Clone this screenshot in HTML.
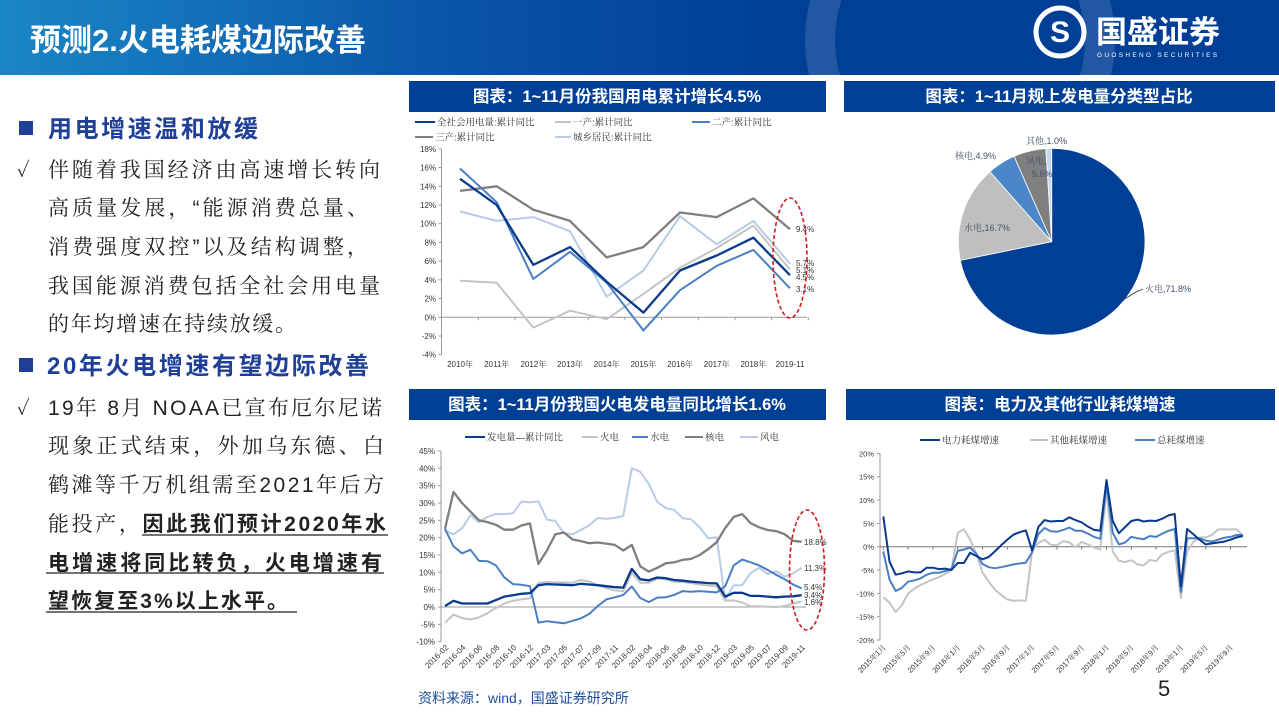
<!DOCTYPE html>
<html><head><meta charset="utf-8">
<style>
html,body{margin:0;padding:0;background:#fff;}
body{width:1279px;height:719px;overflow:hidden;position:relative;font-family:"Liberation Sans","Noto Sans CJK SC",sans-serif;}
svg{position:absolute;left:0;top:0;}
</style></head>
<body>
<svg id="page" width="1279" height="719" viewBox="0 0 1279 719" xmlns="http://www.w3.org/2000/svg">
<defs>
<linearGradient id="hg" x1="0" x2="1" y1="0" y2="0">
<stop offset="0" stop-color="#1a86c6"/><stop offset="0.35" stop-color="#0a55a8"/><stop offset="0.6" stop-color="#003f96"/><stop offset="1" stop-color="#003f96"/>
</linearGradient>
</defs>
<g>
<rect x="0" y="0" width="1279" height="75" fill="url(#hg)"/>
<circle cx="960" cy="40" r="140" fill="none" stroke="#ffffff" stroke-opacity="0.13" stroke-width="30"/>
<text x="30" y="51" font-size="31" font-weight="bold" fill="#fff" font-family="Liberation Sans,Noto Sans CJK SC,sans-serif">预测2.火电耗煤边际改善</text>
<g>
<circle cx="1060" cy="32" r="24" fill="none" stroke="#fff" stroke-width="5"/>
<text x="1060" y="42" font-size="30" font-weight="bold" fill="#fff" text-anchor="middle">S</text>
<text x="1096" y="43" font-size="31" font-weight="bold" fill="#fff" font-family="Noto Sans CJK SC,sans-serif">国盛证券</text>
<text x="1097" y="57" font-size="6.5" fill="#fff" letter-spacing="2.3">GUOSHENG SECURITIES</text>
</g>
</g>

<g font-family="Liberation Sans,Noto Serif CJK SC,serif" font-size="21" fill="#222">
<rect x="19" y="121" width="14" height="14" fill="#1f3f99"/>
<text x="48" y="137" font-size="24" font-weight="bold" fill="#1f3f99" font-family="Liberation Sans,Noto Sans CJK SC,sans-serif" textLength="210" lengthAdjust="spacing">用电增速温和放缓</text>
<text x="17" y="177" font-size="20">✓</text>
<text x="48" y="177" textLength="332" lengthAdjust="spacing">伴随着我国经济由高速增长转向</text>
<text x="48" y="215" textLength="320" lengthAdjust="spacing">高质量发展，“能源消费总量、</text>
<text x="48" y="254" textLength="320" lengthAdjust="spacing">消费强度双控”以及结构调整，</text>
<text x="48" y="293" textLength="332" lengthAdjust="spacing">我国能源消费包括全社会用电量</text>
<text x="48" y="331" textLength="248" lengthAdjust="spacing">的年均增速在持续放缓。</text>
<rect x="19" y="358" width="14" height="14" fill="#1f3f99"/>
<text x="47" y="374" font-size="24" font-weight="bold" fill="#1f3f99" font-family="Liberation Sans,Noto Sans CJK SC,sans-serif" textLength="322" lengthAdjust="spacing">20年火电增速有望边际改善</text>
<text x="17" y="415" font-size="20">✓</text>
<text x="48" y="415" textLength="334" lengthAdjust="spacing">19年 8月 NOAA已宣布厄尔尼诺</text>
<text x="48" y="453" textLength="336" lengthAdjust="spacing">现象正式结束，外加乌东德、白</text>
<text x="48" y="492" textLength="336" lengthAdjust="spacing">鹤滩等千万机组需至2021年后方</text>
<text x="48" y="531" textLength="338" lengthAdjust="spacing">能投产，<tspan font-weight="bold" font-family="Liberation Sans,Noto Sans CJK SC,sans-serif">因此我们预计2020年水</tspan></text>
<text x="48" y="570" textLength="334" lengthAdjust="spacing" font-weight="bold" font-family="Liberation Sans,Noto Sans CJK SC,sans-serif">电增速将同比转负，火电增速有</text>
<text x="48" y="608" textLength="240" lengthAdjust="spacing" font-weight="bold" font-family="Liberation Sans,Noto Sans CJK SC,sans-serif">望恢复至3%以上水平。</text>
<line x1="142" y1="535" x2="388" y2="535" stroke="#222" stroke-width="1.3"/>
<line x1="46" y1="573" x2="384" y2="573" stroke="#222" stroke-width="1.3"/>
<line x1="46" y1="612" x2="297" y2="612" stroke="#222" stroke-width="1.3"/>
</g>

<g font-family="Liberation Sans,Noto Sans CJK SC,sans-serif" font-size="16.5" font-weight="bold" fill="#fff">
<rect x="409" y="81" width="417" height="31" fill="#003f96"/>
<text x="617" y="102" text-anchor="middle">图表：1~11月份我国用电累计增长4.5%</text>
<rect x="844" y="81" width="431" height="31" fill="#003f96"/>
<text x="1059" y="102" text-anchor="middle">图表：1~11月规上发电量分类型占比</text>
<rect x="409" y="389" width="417" height="31" fill="#003f96"/>
<text x="617" y="410" text-anchor="middle">图表：1~11月份我国火电发电量同比增长1.6%</text>
<rect x="846" y="389" width="429" height="31" fill="#003f96"/>
<text x="1060" y="410" text-anchor="middle">图表：电力及其他行业耗煤增速</text>
</g>

<g id="c1"></g>
<g id="c2"></g>
<g id="c3"></g>
<g id="c4"></g>

<text x="418" y="703" font-size="14" fill="#1f4e9c" font-family="Liberation Sans,Noto Sans CJK SC,sans-serif">资料来源：wind，国盛证券研究所</text>
<text x="1158" y="696" font-size="22" fill="#222">5</text>
</svg>

<script>
// ---------- Chart 1 data ----------
const c1Cats = ['2010年','2011年','2012年','2013年','2014年','2015年','2016年','2017年','2018年','2019-11'];
const c1Ticks = [18,16,14,12,10,8,6,4,2,0,-2,-4];
const c1Total = [14.8,12.0,5.6,7.5,3.8,0.5,5.0,6.6,8.5,4.5];
const c1Primary = [3.9,3.7,-1.1,0.7,-0.2,2.5,5.3,7.4,9.8,5.1];
const c1Secondary = [15.9,12.3,4.1,7.0,3.7,-1.4,2.9,5.5,7.2,3.1];
const c1Tertiary = [13.5,14.0,11.5,10.3,6.4,7.5,11.2,10.7,12.7,9.4];
const c1Resident = [11.3,10.3,10.7,9.2,2.2,5.0,10.8,7.8,10.3,5.7];
const c1EndLabels = ['9.4%','5.7%','5.1%','4.5%','3.1%'];

// ---------- Pie data ----------
const pieCats = ['火电','水电','核电','风电','其他'];
const pieVals = [71.8,16.7,4.9,5.6,1.0];

// ---------- Chart 3 data ----------
const c3Cats = ['2016-02','2016-04','2016-06','2016-08','2016-10','2016-12','2017-03','2017-05','2017-07','2017-09','2017-11','2018-02','2018-04','2018-06','2018-08','2018-10','2018-12','2019-03','2019-05','2019-07','2019-09','2019-11'];
const c3Ticks = [45,40,35,30,25,20,15,10,5,0,-5,-10];
const c3Total = [0.3,1.8,1.0,1.0,1.0,1.0,2.0,3.0,3.4,3.8,4.0,6.3,6.6,6.5,6.4,6.3,6.7,6.5,6.3,6.0,5.7,5.6,11.0,8.0,7.7,8.5,8.3,7.8,7.6,7.3,7.1,6.9,6.8,3.0,4.1,4.1,3.2,3.2,3.0,2.8,3.0,3.1,3.4];
const c3Thermal = [-4.5,-2.2,-3.2,-3.6,-3.0,-1.8,-0.3,1.0,1.8,2.2,2.5,7.0,7.2,7.1,7.1,7.0,7.8,7.3,6.3,5.5,4.8,4.6,9.8,7.0,7.0,8.2,8.0,7.3,7.2,6.9,6.5,6.2,6.0,1.8,1.9,1.3,0.2,0.2,0.1,0.0,0.3,1.0,1.6];
const c3Hydro = [22.5,17.5,15.5,16.5,13.3,13.2,12.0,8.5,6.6,6.4,6.0,-4.5,-4.1,-4.4,-4.7,-4.0,-3.3,-2.0,0.3,2.2,2.8,3.5,5.9,2.6,1.4,2.7,2.8,3.5,4.6,4.4,4.6,4.4,4.2,6.0,12.0,13.7,12.9,12.0,10.7,9.3,8.0,6.5,5.4];
const c3Nuclear = [22.5,33.2,30.0,27.5,25.0,24.5,23.7,22.3,22.3,23.5,24.1,12.4,16.3,21.0,21.5,19.5,19.0,18.4,18.6,18.3,17.9,16.3,17.9,11.7,10.2,11.3,12.6,12.9,13.6,13.9,15.0,16.7,18.7,22.8,26.0,26.8,24.2,23.0,22.2,21.9,21.0,19.1,18.8];
const c3Wind = [22.0,21.0,22.7,26.5,24.5,26.0,26.8,26.8,27.0,30.4,30.2,30.5,25.2,24.8,21.3,21.0,22.2,23.6,25.7,25.4,25.7,26.3,40.0,39.0,35.5,30.3,28.5,28.0,25.6,25.3,23.0,19.8,20.1,2.0,6.3,6.3,9.8,11.3,9.5,10.3,8.8,9.7,11.3];
const c3EndLabels = ['18.8%','11.3%','5.4%','3.4%','1.6%'];

// ---------- Chart 4 data ----------
const c4Cats = ['2015年1月','2015年5月','2015年9月','2016年1月','2016年5月','2016年9月','2017年1月','2017年5月','2017年9月','2018年1月','2018年5月','2018年9月','2019年1月','2019年5月','2019年9月'];
const c4Ticks = [20,15,10,5,0,-5,-10,-15,-20];
const c4Power = [6.5,-3.2,-6.0,-5.7,-5.3,-5.5,-5.5,-4.5,-4.5,-4.8,-4.7,-5.0,-3.5,-3.5,-1.3,-2.0,-2.7,-2.2,-1.0,0.3,1.5,2.6,3.1,3.5,-0.8,4.2,5.7,5.4,5.5,5.5,6.3,5.7,5.2,4.3,3.6,3.4,14.3,5.5,2.9,4.2,5.5,5.8,5.4,5.6,5.5,6.0,6.7,7.0,-8.5,3.8,2.7,1.5,0.5,0.7,0.9,1.1,1.5,2.0,2.3];
const c4Other = [-10.8,-12.0,-14.0,-12.5,-10.0,-9.0,-8.2,-7.6,-7.0,-6.5,-5.8,-5.0,3.0,3.7,1.5,-1.5,-5.5,-7.5,-9.2,-10.3,-11.3,-11.6,-11.5,-11.6,-0.8,0.8,1.5,0.4,0.3,1.2,0.9,-0.1,1.0,0.5,-0.2,-0.6,12.0,-1.0,-3.0,-3.3,-2.9,-3.8,-4.0,-2.8,-3.1,-1.6,-1.1,-0.8,-11.0,-1.0,1.0,2.0,2.0,2.5,3.7,3.7,3.7,3.7,2.4];
const c4Total = [-1.0,-7.0,-9.5,-8.8,-7.5,-7.2,-6.8,-6.0,-5.6,-5.6,-5.2,-4.8,-0.9,-0.6,-0.2,-1.5,-3.7,-4.4,-4.6,-4.4,-4.1,-3.8,-3.6,-3.4,-1.2,2.7,4.0,3.3,3.2,3.6,4.1,3.4,3.4,2.8,2.1,1.7,13.5,3.0,0.5,0.9,2.1,1.8,1.6,2.3,2.1,2.8,3.4,3.8,-9.7,1.8,1.8,1.8,1.3,1.1,1.5,1.9,2.1,2.5,2.5];

const NS = 'http://www.w3.org/2000/svg';
function mk(tag, parent, attrs){
  const e = document.createElementNS(NS, tag);
  for (const k in attrs) e.setAttribute(k, attrs[k]);
  parent.appendChild(e);
  return e;
}
function series(g, vals, xf, yf, color, w, name){
  const pts = vals.map((v,i)=>xf(i).toFixed(1)+','+yf(v).toFixed(1)).join(' ');
  const p = mk('polyline', g, {points:pts, fill:'none', stroke:color, 'stroke-width':w, 'stroke-linejoin':'round'});
  
  
  return p;
}
function legendItem(g, x, y, len, color, w, label, name){
  const li = mk('g', g, {});
  
  
  mk('line', li, {x1:x, y1:y, x2:x+len, y2:y, stroke:color, 'stroke-width':w});
  const t = mk('text', li, {x:x+len+2, y:y+3.5, 'font-size':9.5, fill:'#333', 'font-family':'Liberation Sans,Noto Serif CJK SC,serif'});
  t.textContent = label;
}
const DARK='#0a3a8c', LGRAY='#c4c4c4', MBLUE='#4a7fc4', GRAY='#7f7f7f', LBLUE='#b7cbe8';

// ---------- Chart 1 ----------
(function(){
  const g = document.getElementById('c1');
  const x = i => 460 + i*36.67;
  const y = v => 317.3 - v*9.36;
  const ax = mk('g', g, {'font-size':8, fill:'#333'});
  
  
  mk('line', ax, {x1:441.5, y1:y(18), x2:441.5, y2:y(-4), stroke:'#999'});
  c1Ticks.forEach(t=>{
    mk('line', ax, {x1:438.5, y1:y(t), x2:441.5, y2:y(t), stroke:'#999'});
    const tx = mk('text', ax, {x:436, y:y(t)+3, 'text-anchor':'end'});
    tx.textContent = t + '%';
  });
  mk('line', ax, {x1:441.5, y1:y(0), x2:807, y2:y(0), stroke:'#999'});
  c1Cats.forEach((c,i)=>{
    mk('line', ax, {x1:x(i)+18.3, y1:y(0), x2:x(i)+18.3, y2:y(0)+3, stroke:'#999'});
    const tx = mk('text', ax, {x:x(i), y:367, 'text-anchor':'middle', 'font-family':'Liberation Sans,Noto Serif CJK SC,serif'});
    tx.textContent = c;
  });
  series(g, c1Primary, x, y, LGRAY, 2, 'series-primary-industry');
  series(g, c1Resident, x, y, LBLUE, 2, 'series-urban-rural-residents');
  series(g, c1Tertiary, x, y, GRAY, 2.3, 'series-tertiary-industry');
  series(g, c1Secondary, x, y, MBLUE, 2, 'series-secondary-industry');
  series(g, c1Total, x, y, DARK, 2.3, 'series-total-consumption');
  const lab = mk('g', g, {'font-size':8, fill:'#333'});
  
  
  const lx = 796, ly = [232, 266, 273, 280, 292];
  c1EndLabels.forEach((s,k)=>{ const t = mk('text', lab, {x:lx, y:ly[k]}); t.textContent = s; });
  const el = mk('ellipse', g, {cx:790, cy:258, rx:17, ry:60, fill:'none', stroke:'#d0191b', 'stroke-width':1.6, 'stroke-dasharray':'4 2.5'});
  
  
  legendItem(g, 415, 122, 20, DARK, 2, '全社会用电量:累计同比', 'legend-total');
  legendItem(g, 555, 122, 16, LGRAY, 2, '一产:累计同比', 'legend-primary');
  legendItem(g, 692, 122, 18, MBLUE, 2, '二产:累计同比', 'legend-secondary');
  legendItem(g, 415, 137, 18, GRAY, 2, '三产:累计同比', 'legend-tertiary');
  legendItem(g, 555, 137, 16, LBLUE, 2, '城乡居民:累计同比', 'legend-residents');
})();

// ---------- Pie ----------
(function(){
  const g = document.getElementById('c2');
  const cx = 1051.7, cy = 241.7, r = 93.3;
  const colors = ['#003f96','#bfbfbf','#4a86c8','#7f7f7f','#c5d9f1'];
  const total = pieVals.reduce((a,b)=>a+b,0);
  let a0 = 0;
  pieVals.forEach((v,i)=>{
    const a1 = a0 + v/total*Math.PI*2;
    const x0 = cx + r*Math.sin(a0), y0 = cy - r*Math.cos(a0);
    const x1 = cx + r*Math.sin(a1), y1 = cy - r*Math.cos(a1);
    const large = (a1-a0) > Math.PI ? 1 : 0;
    const p = mk('path', g, {d:`M${cx},${cy} L${x0},${y0} A${r},${r} 0 ${large} 1 ${x1},${y1} Z`, fill:colors[i], stroke:'#fff', 'stroke-width':0.8});
    
    
    a0 = a1;
  });
  const lab = mk('g', g, {'font-size':9, fill:'#44546a', 'font-family':'Liberation Sans,Noto Serif CJK SC,serif'});
  
  
  const pos = [[1145,292],[964,231],[955,159],[1026,164],[1026,144]];
  pieVals.forEach((v,i)=>{
    const t = mk('text', lab, {x:pos[i][0], y:pos[i][1]});
    if (i===3){
      t.textContent = pieCats[i] + ',';
      const t2 = mk('text', lab, {x:pos[i][0]+6, y:pos[i][1]+13});
      t2.textContent = v.toFixed(1) + '%';
    } else {
      t.textContent = pieCats[i] + ',' + v.toFixed(1) + '%';
    }
  });
  mk('polyline', lab, {points:'1143,289 1136,292 1123,300', fill:'none', stroke:'#333', 'stroke-width':0.8});
})();

// ---------- Chart 3 ----------
(function(){
  const g = document.getElementById('c3');
  const x = i => 445 + i*8.49;
  const y = v => 607 - v*3.467;
  const ax = mk('g', g, {'font-size':8, fill:'#333'});
  
  
  mk('line', ax, {x1:441, y1:y(45), x2:441, y2:y(-10), stroke:'#999'});
  c3Ticks.forEach(t=>{
    mk('line', ax, {x1:438, y1:y(t), x2:441, y2:y(t), stroke:'#999'});
    const tx = mk('text', ax, {x:435, y:y(t)+3, 'text-anchor':'end'});
    tx.textContent = t + '%';
  });
  mk('line', ax, {x1:441, y1:y(0), x2:806, y2:y(0), stroke:'#999'});
  c3Cats.forEach((c,k)=>{
    const px = x(k*2);
    const tx = mk('text', ax, {x:px+4, y:648, 'text-anchor':'end', transform:`rotate(-45 ${px+4} 648)`});
    tx.textContent = c;
  });
  series(g, c3Thermal, x, y, LGRAY, 2, 'series-thermal');
  series(g, c3Wind, x, y, LBLUE, 2, 'series-wind');
  series(g, c3Nuclear, x, y, GRAY, 2.3, 'series-nuclear');
  series(g, c3Hydro, x, y, MBLUE, 2, 'series-hydro');
  series(g, c3Total, x, y, DARK, 2.3, 'series-generation-total');
  const lab = mk('g', g, {'font-size':8, fill:'#333'});
  
  
  const ly = [545, 571, 590, 598, 605];
  c3EndLabels.forEach((s,k)=>{ const t = mk('text', lab, {x:804, y:ly[k]}); t.textContent = s; });
  const el = mk('ellipse', g, {cx:807, cy:570, rx:17.5, ry:60, fill:'none', stroke:'#d0191b', 'stroke-width':1.6, 'stroke-dasharray':'4 2.5'});
  
  
  legendItem(g, 465, 437, 20, DARK, 2, '发电量—累计同比', 'legend-generation');
  legendItem(g, 582, 437, 16, LGRAY, 2, '火电', 'legend-thermal');
  legendItem(g, 632, 437, 16, MBLUE, 2, '水电', 'legend-hydro');
  legendItem(g, 685, 437, 18, GRAY, 2, '核电', 'legend-nuclear');
  legendItem(g, 740, 437, 18, LBLUE, 2, '风电', 'legend-wind');
})();

// ---------- Chart 4 ----------
(function(){
  const g = document.getElementById('c4');
  const x = i => 883.3 + i*6.2;
  const y = v => 546.7 - v*4.667;
  const ax = mk('g', g, {'font-size':7.5, fill:'#333'});
  
  
  mk('line', ax, {x1:880, y1:y(20), x2:880, y2:y(-20), stroke:'#999'});
  c4Ticks.forEach(t=>{
    mk('line', ax, {x1:877, y1:y(t), x2:880, y2:y(t), stroke:'#999'});
    const tx = mk('text', ax, {x:874, y:y(t)+3, 'text-anchor':'end'});
    tx.textContent = t + '%';
  });
  mk('line', ax, {x1:880, y1:y(0), x2:1247, y2:y(0), stroke:'#777'});
  c4Cats.forEach((c,k)=>{
    const px = x(k*4);
    mk('line', ax, {x1:px, y1:y(0), x2:px, y2:y(0)+3, stroke:'#777'});
    const tx = mk('text', ax, {x:px+3, y:648, 'text-anchor':'end', transform:`rotate(-45 ${px+3} 648)`, 'font-family':'Liberation Sans,Noto Serif CJK SC,serif'});
    tx.textContent = c;
  });
  series(g, c4Other, x, y, LGRAY, 2, 'series-other-coal');
  series(g, c4Total, x, y, MBLUE, 2, 'series-total-coal');
  series(g, c4Power, x, y, DARK, 2, 'series-power-coal');
  legendItem(g, 920, 440, 20, DARK, 2, '电力耗煤增速', 'legend-power');
  legendItem(g, 1030, 440, 18, LGRAY, 2, '其他耗煤增速', 'legend-other');
  legendItem(g, 1135, 440, 20, MBLUE, 2, '总耗煤增速', 'legend-total');
})();
</script>
</body></html>
